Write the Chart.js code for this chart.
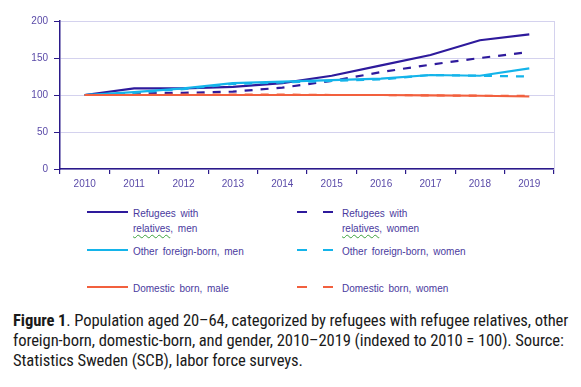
<!DOCTYPE html>
<html><head><meta charset="utf-8">
<script src="https://cdn.jsdelivr.net/npm/chart.js@4.4.0/dist/chart.umd.min.js"></script>
<style>
html,body{margin:0;padding:0;background:#fff;width:581px;height:387px;overflow:hidden;position:relative}
#wrap{position:absolute;left:0;top:0;width:581px;height:200px}
.leg{position:absolute;font-family:"Liberation Sans",Arial,sans-serif;font-size:10px;color:#4a3a9e;line-height:15px;word-spacing:2px}
.sw{position:absolute;height:0}
.wavy{text-decoration:underline wavy #3ca03c;text-decoration-thickness:1px;text-underline-offset:2px}
#cap{position:absolute;left:13px;top:311px;width:565px;font-family:"Liberation Sans Narrow","Roboto Condensed","Liberation Sans",sans-serif;font-size:16.6px;line-height:20px;color:#1a1a1a;letter-spacing:-0.1px}
</style></head>
<body>
<div id="wrap"><canvas id="c" width="581" height="200"></canvas></div>
<div id="legend"></div>
<div id="cap"><b>Figure 1</b>. Population aged 20–64, categorized by refugees with refugee relatives, other foreign-born, domestic-born, and gender, 2010–2019 (indexed to 2010 = 100). Source: Statistics Sweden (SCB), labor force surveys.</div>
<script>
const years = ["2010","2011","2012","2013","2014","2015","2016","2017","2018","2019"];
const yTicks = [0,50,100,150,200];
const refugeeMen     = [100,109,109,111,116,126,140,154,174,182];
const refugeeWomen   = [100,102,103,104.5,110,119,131,141,150,158];
const otherMen       = [100,104,109,116,118,120,122,127,126,136];
const otherWomen     = [100,103,108,115,117,119,121,127,126,125];
const domesticMale   = [100,100,100,100,100,100,100,99.5,99,98];
const domesticWomen  = [100,100,100.5,100.5,100.5,100,100,99.5,99,99];
const seriesNames = ["Refugees with relatives, men","Refugees with relatives, women","Other foreign-born,  men","Other foreign-born,  women","Domestic born,  male","Domestic born,  women"];

const DARK="#2e1a9c", LIGHT="#14b4ea", RED="#f2603e";
const dash=[8,8];
const datasets=[
 {label:seriesNames[0],data:refugeeMen,borderColor:DARK},
 {label:seriesNames[1],data:refugeeWomen,borderColor:DARK,borderDash:dash},
 {label:seriesNames[2],data:otherMen,borderColor:LIGHT},
 {label:seriesNames[3],data:otherWomen,borderColor:LIGHT,borderDash:dash},
 {label:seriesNames[4],data:domesticMale,borderColor:RED},
 {label:seriesNames[5],data:domesticWomen,borderColor:RED,borderDash:dash}
].map(d=>Object.assign({borderWidth:2.2,pointRadius:0,tension:0,fill:false},d));

const frame={id:'frame',afterDraw(ch){const a=ch.chartArea,c=ch.ctx;c.save();c.strokeStyle='#d4d2ee';c.lineWidth=1;c.beginPath();c.moveTo(a.right+0.5,a.top);c.lineTo(a.right+0.5,a.bottom);c.stroke();c.restore();}};

new Chart(document.getElementById('c'),{
 type:'line',
 data:{labels:years,datasets:datasets.slice().reverse()},
 options:{
  responsive:false,animation:false,
  layout:{padding:{left:0,right:27,top:21,bottom:0}},
  plugins:{legend:{display:false},tooltip:{enabled:false}},
  scales:{
   x:{offset:true,
      grid:{display:true,drawOnChartArea:false,offset:true,tickLength:5,color:'#2b1a8a',lineWidth:1.2},
      border:{color:'#2b1a8a',width:1.5},
      ticks:{color:'#5a4aa8',font:{family:'Liberation Sans',size:10},padding:4,maxRotation:0},
      afterFit(s){s.height=31;}},
   y:{min:0,max:200,
      afterBuildTicks(s){s.ticks=yTicks.map(v=>({value:v}));},
      grid:{color:'#d4d2ee',lineWidth:1,tickLength:6,tickColor:'#2b1a8a'},
      border:{color:'#2b1a8a',width:1.5},
      ticks:{color:'#5a4aa8',font:{family:'Liberation Sans',size:10},padding:6},
      afterFit(s){s.width=60;}}
  }
 },
 plugins:[frame]
});

// HTML legend built from the series
const legPos=[[87,133,206],[297,342,206],[87,133,244],[297,342,244],[87,133,281],[297,342,281]];
const L=document.getElementById('legend');
datasets.forEach((d,i)=>{
 const [sx,tx,ty]=legPos[i];
 const lineY=ty+5;
 if(d.borderDash){
  [0,26].forEach(o=>{const s=document.createElement('div');s.className='sw';s.style.cssText=`left:${sx+o}px;top:${lineY}px;width:10px;border-top:2.5px solid ${d.borderColor}`;L.appendChild(s);});
 } else {
  const s=document.createElement('div');s.className='sw';s.style.cssText=`left:${sx}px;top:${lineY}px;width:41px;border-top:2.5px solid ${d.borderColor}`;L.appendChild(s);
 }
 const t=document.createElement('div');t.className='leg';t.style.left=tx+'px';t.style.top=ty+'px';
 if(d.label.startsWith('Refugees with relatives')){
  const rest=d.label.split('relatives')[1];
  t.innerHTML='Refugees with<br><span class="wavy">relatives</span>'+rest;
 } else t.textContent=d.label;
 L.appendChild(t);
});
</script>
</body></html>
